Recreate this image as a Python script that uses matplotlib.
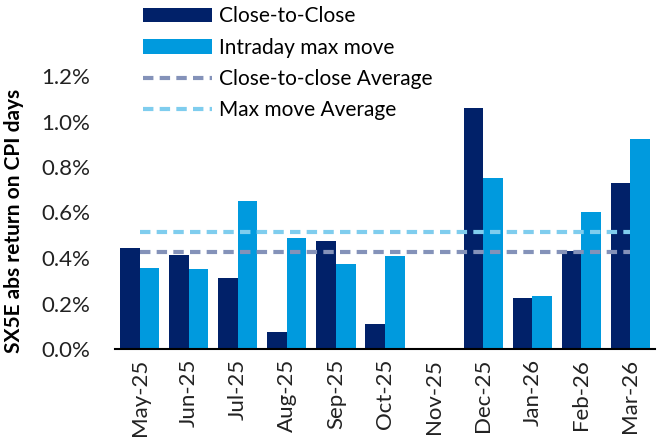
import numpy as np
import matplotlib.pyplot as plt

# data (in %)
bulan = ['May-25', 'Jun-25', 'Jul-25', 'Aug-25', 'Sep-25', 'Oct-25',
         'Nov-25', 'Dec-25', 'Jan-26', 'Feb-26', 'Mar-26']
close_to_close = [0.444, 0.413, 0.312, 0.075, 0.475, 0.110,
                  np.nan, 1.060, 0.224, 0.431, 0.730]
intraday_max = [0.356, 0.352, 0.650, 0.488, 0.374, 0.409,
                np.nan, 0.752, 0.233, 0.602, 0.923]

plt.rcParams['font.family'] = ['Lato', 'DejaVu Sans']

fig = plt.figure(figsize=(6.58, 4.38), dpi=100)
ax = fig.add_axes([115 / 658, 1 - 349 / 438, 540 / 658, 273 / 438])

x = np.arange(len(bulan))
lebar = 0.4
b1 = ax.bar(x - lebar / 2, close_to_close, lebar, color='#012169', label='Close-to-Close')
b2 = ax.bar(x + lebar / 2, intraday_max, lebar, color='#009ADE', label='Intraday max move')

avg_ctc = np.nanmean(close_to_close)
avg_max = np.nanmean(intraday_max)
l1, = ax.plot(x, [avg_ctc] * len(x), color='#8492B9', lw=3, dashes=(2.5, 1.5),
              label='Close-to-close Average')
l2, = ax.plot(x, [avg_max] * len(x), color='#7FCDEE', lw=3, dashes=(2.5, 1.5),
              label='Max move Average')

ax.set_xlim(-0.5, len(bulan) - 0.5)
ax.set_ylim(0, 1.2)
ax.set_yticks(np.arange(0, 1.21, 0.2))
ax.set_yticklabels([f'{v:.1f}%' for v in np.arange(0, 1.21, 0.2)])
ax.set_xticks(x)
ax.set_xticklabels(bulan, rotation=90)
ax.tick_params(axis='both', length=0, labelsize=16, colors='#222222')
ax.tick_params(axis='x', pad=7)
ax.tick_params(axis='y', pad=18)

for s in ['top', 'right', 'left']:
    ax.spines[s].set_visible(False)
ax.spines['bottom'].set_linewidth(1.5)
ax.spines['bottom'].set_color('black')

ax.set_ylabel('SX5E abs return on CPI days', fontsize=15, fontweight='bold')
ax.yaxis.set_label_coords(-0.168, 0.47)

fig.legend(handles=[b1, b2, l1, l2], loc='upper left', bbox_to_anchor=(140 / 658, 1 - 3 / 438),
           frameon=False, fontsize=15, handlelength=3.3, handleheight=0.7,
           handletextpad=0.35, labelspacing=0.55, borderaxespad=0, borderpad=0.15)

fig.savefig('out.png', dpi=100)
